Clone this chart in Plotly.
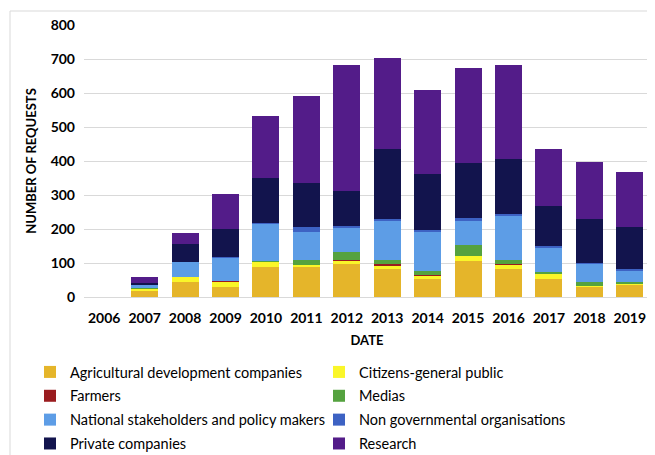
import plotly.graph_objects as go

years = ["2006", "2007", "2008", "2009", "2010", "2011", "2012", "2013",
         "2014", "2015", "2016", "2017", "2018", "2019"]

agri = [0, 19, 43, 30, 89, 91, 97, 82, 52, 106, 81, 52, 30, 38]
citizens = [0, 6, 17, 15, 15, 3, 9, 12, 11, 15, 15, 15, 3, 2]
farmers = [0, 0, 0, 1, 0, 0, 4, 4, 3, 0, 2, 0, 0, 1]
medias = [0, 1, 0, 0, 3, 15, 22, 12, 10, 32, 12, 7, 12, 4]
national = [0, 11, 43, 70, 108, 82, 72, 115, 117, 71, 131, 72, 54, 32]
ngo = [0, 1, 1, 3, 4, 14, 6, 5, 3, 7, 4, 4, 2, 4]
private = [0, 4, 51, 80, 132, 131, 102, 204, 166, 164, 160, 119, 129, 124]
research = [0, 18, 33, 105, 180, 255, 370, 268, 248, 280, 276, 165, 167, 162]

y_ticks = [0, 100, 200, 300, 400, 500, 600, 700, 800]

series = [
    ("Agricultural development companies", agri, "#E5B52A", "legend"),
    ("Citizens-general public", citizens, "#FAF629", "legend2"),
    ("Farmers", farmers, "#9A1C1F", "legend"),
    ("Medias", medias, "#55A23F", "legend2"),
    ("National stakeholders and policy makers", national, "#5D9DE6", "legend"),
    ("Non governmental organisations", ngo, "#3D62C3", "legend2"),
    ("Private companies", private, "#12144D", "legend"),
    ("Research", research, "#531C89", "legend2"),
]

FONT = "Lato"
OFF = 8  # page body margin
FW, FH = 655 - OFF, 455 - OFF

fig = go.Figure()
for i, (name, vals, color, leg) in enumerate(series):
    fig.add_trace(go.Bar(
        x=years, y=vals, name=name,
        marker=dict(color=color, line=dict(width=0)),
        legend=leg, legendgroup="g%d" % i,
    ))

def fx(px):
    return (px - OFF) / FW

def fy(py):
    return 1 - (py - OFF) / FH

fig.update_layout(
    width=FW, height=FH,
    margin=dict(l=0, r=0, t=0, b=0, pad=0, autoexpand=False),
    paper_bgcolor="white", plot_bgcolor="white",
    barmode="stack", bargap=0.33,
    font=dict(family=FONT, color="#000000"),
    xaxis=dict(
        domain=[fx(84), fx(650)],
        type="category", automargin=False,
        tickfont=dict(family=FONT, size=14, color="#000000", weight="bold"),
        showgrid=False, showline=False, ticks="", ticklabelstandoff=11,
        title=dict(text="<b>DATE</b>", font=dict(family=FONT, size=13, color="#000000"), standoff=10),
    ),
    yaxis=dict(
        domain=[fy(297), fy(25)],
        range=[0, 800], tickvals=y_ticks, automargin=False,
        tickfont=dict(family=FONT, size=14, color="#000000", weight="bold"),
        showgrid=True, gridcolor="#D9D9D9", gridwidth=1,
        zeroline=True, zerolinecolor="#D9D9D9", zerolinewidth=1,
        showline=False, ticks="", ticklabelstandoff=8,
        title=dict(text="<b>NUMBER OF REQUESTS</b>", font=dict(family=FONT, size=13, color="#000000"), standoff=11),
    ),
    legend=dict(
        x=fx(30), y=fy(356), xanchor="left", yanchor="top",
        orientation="v", traceorder="grouped", tracegroupgap=2,
        font=dict(family=FONT, size=14.5, color="#000000"),
        bgcolor="rgba(0,0,0,0)", itemclick=False,
    ),
    legend2=dict(
        x=fx(319), y=fy(356), xanchor="left", yanchor="top",
        orientation="v", traceorder="grouped", tracegroupgap=2,
        font=dict(family=FONT, size=14.5, color="#000000"),
        bgcolor="rgba(0,0,0,0)", itemclick=False,
    ),
    shapes=[dict(
        type="rect", xref="paper", yref="paper",
        x0=fx(10), x1=fx(680), y0=fy(480), y1=fy(11),
        line=dict(color="#D9D9D9", width=1), fillcolor="rgba(0,0,0,0)",
        layer="below",
    )],
)

fig.write_html("out.html")
